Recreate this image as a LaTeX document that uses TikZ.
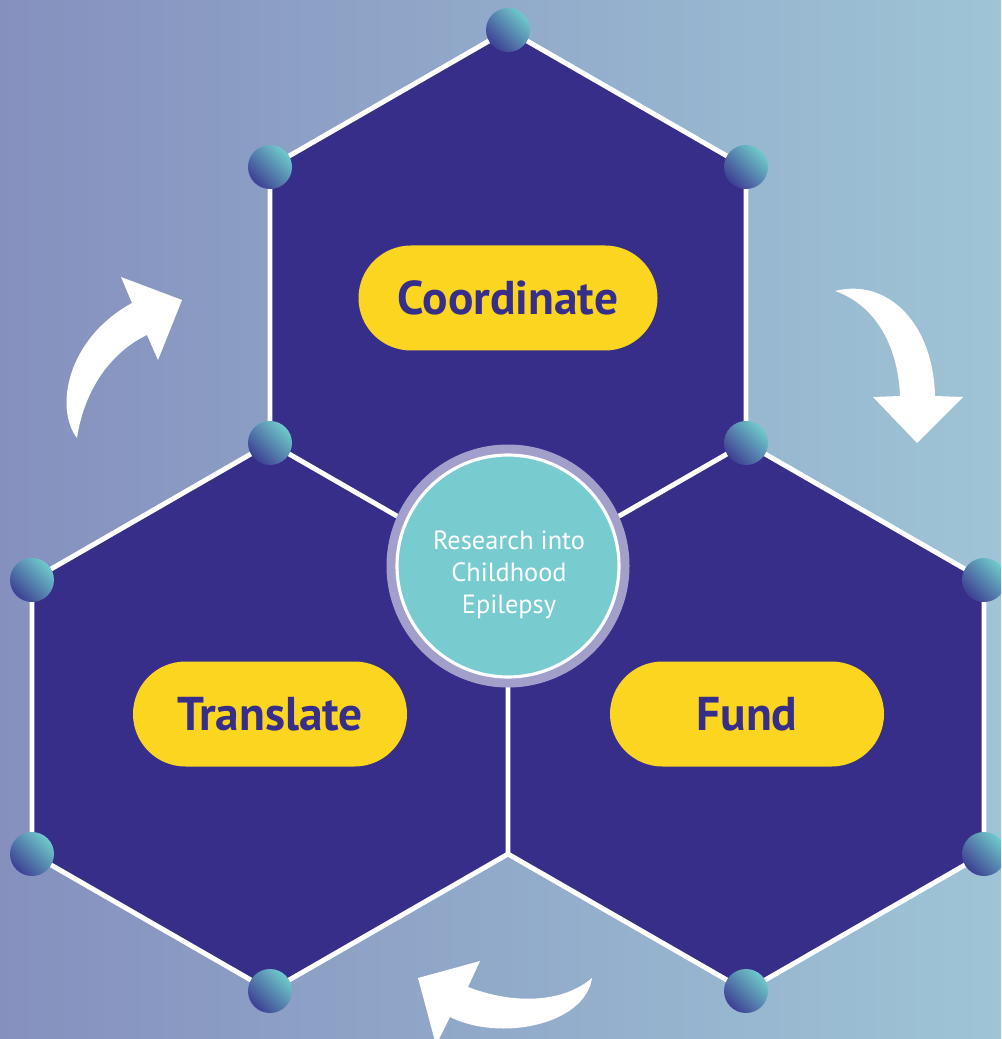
\documentclass[tikz,border=0pt]{standalone}
\usepackage{fontspec}
\setmainfont{PT Sans}
\usetikzlibrary{positioning}
\definecolor{bgleft}{HTML}{8590BE}
\definecolor{bgright}{HTML}{9EC4D6}
\definecolor{hexfill}{HTML}{372E8A}
\definecolor{pillyellow}{HTML}{FCD520}
\definecolor{hubteal}{HTML}{78CCD0}
\definecolor{halopurple}{HTML}{A39FCB}
\definecolor{knobteal}{HTML}{6FCACB}
\definecolor{knobblue}{HTML}{3E3F93}
\tikzset{
  hexface/.style={fill=hexfill,draw=white,line width=1.4pt},
  pill/.style={fill=pillyellow,text=hexfill,rounded corners=0.525cm,
    minimum width=2.99cm,minimum height=1.05cm,
    font=\fontsize{13.5}{15}\selectfont\bfseries},
  knob/.style={top color=knobteal,bottom color=knobblue,shading angle=-45},
  halo/.style={circle,fill=halopurple,minimum size=2.43cm,inner sep=0pt},
  hub/.style={circle,fill=hubteal,draw=white,line width=0.9pt,
    minimum size=2.22cm,inner sep=0pt},
  hubtext/.style={text=white,align=center,
    font=\fontsize{7.5}{9.1}\selectfont},
  turn/.style={fill=white},
}

\begin{document}
\begin{tikzpicture}[x=0.1mm,y=-0.1mm]
  \useasboundingbox (0,0) rectangle (1001,1039);
  \clip (0,0) rectangle (1001,1039);
  \shade[left color=bgleft,right color=bgright] (0,0) rectangle (1001,1039);

  % corners of the three hexagons
  \coordinate (t)  at (508,30);
  \coordinate (tl) at (270,167);
  \coordinate (tr) at (746,167);
  \coordinate (ml) at (270,443);
  \coordinate (mr) at (746,443);
  \coordinate (c)  at (508,580);
  \coordinate (b)  at (508,854);
  \coordinate (l1) at (32,580);
  \coordinate (l2) at (32,854);
  \coordinate (lb) at (270,991);
  \coordinate (r1) at (984,580);
  \coordinate (r2) at (984,854);
  \coordinate (rb) at (746,991);

  \path[hexface] (t) -- (tr) -- (mr) -- (c) -- (ml) -- (tl) -- cycle
    (ml) -- (c) -- (b) -- (lb) -- (l2) -- (l1) -- cycle
    (mr) -- (r1) -- (r2) -- (rb) -- (b) -- (c) -- cycle;

  \foreach \v in {t,tl,tr,ml,mr,l1,l2,lb,r1,r2,rb}
    \shade[knob] (\v) circle [radius=0.22cm];

  \node[halo] (halo) at (508,566) {};
  \node[hub] (hub) at (halo) {};
  \node[hubtext] (hubtxt) at (509,575) {Research into\\Childhood\\Epilepsy};

  \node[pill] (coord) at (508,298) {Coordinate};
  \node[pill,minimum width=2.74cm] (transl) at (270,714) {Translate};
  \node[pill,minimum width=2.74cm] (fund) at (747,714) {Fund};

  % curved arrows between the stages
  \fill[turn] (77,438) .. controls (55,410) and (65,340) .. (132,303)
    -- (121,277) -- (182,300) -- (158,360) -- (147,335)
    .. controls (115,350) and (85,385) .. (77,438) -- cycle;
  \fill[turn] (835,291) .. controls (885,278) and (933,320) .. (935,396)
    -- (963,397) -- (917,443) -- (873,397) -- (900,396)
    .. controls (898,345) and (875,305) .. (835,291) -- cycle;
  \fill[turn] (592,978) .. controls (560,1005) and (510,1003) .. (468,987)
    -- (480,961) -- (418,978) -- (436,1045) -- (450,1017)
    .. controls (500,1042) and (585,1025) .. (592,978) -- cycle;
\end{tikzpicture}
\end{document}
